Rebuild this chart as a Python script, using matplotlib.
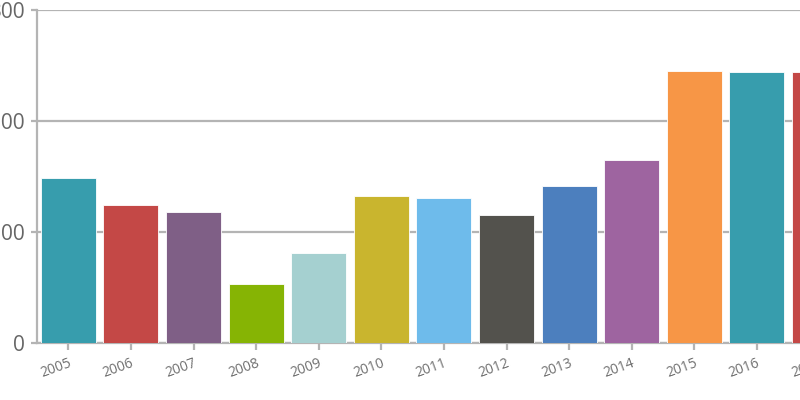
import numpy as np
import matplotlib.pyplot as plt

plt.rcParams['font.family'] = ['Open Sans', 'DejaVu Sans']

# data
years = ['2005', '2006', '2007', '2008', '2009', '2010', '2011',
         '2012', '2013', '2014', '2015', '2016', '2017']
values = [149, 124, 118, 53, 81, 132, 131, 115, 141, 165, 245, 244, 244]
colors = ['#379dad', '#c44846', '#7f5f86', '#86b404', '#a5d0d0', '#c9b52e',
          '#6ebbeb', '#53524d', '#4c7fbe', '#9e64a0', '#f79646', '#379dad',
          '#c44846']
yticks = [0, 100, 200, 300]

fig = plt.figure(figsize=(8, 4), dpi=100)
# axes run past the right edge of the figure, like the cropped original
ax = fig.add_axes([37 / 800, 57 / 400, 13 * 62.6 / 800, 333 / 400])

x = np.arange(len(years))
ax.bar(x, values, width=0.88, color=colors, edgecolor='white',
       linewidth=0.6, zorder=3)

ax.set_xlim(-0.5, len(years) - 0.5)
ax.set_ylim(0, 300)
ax.set_yticks(yticks)
ax.set_yticklabels([str(v) for v in yticks])
ax.set_xticks(x)
ax.set_xticklabels(years, rotation=20, ha='right', rotation_mode='anchor')

ax.grid(axis='y', color='#b4b4b4', linewidth=1.6, zorder=0)
for s in ['top', 'right']:
    ax.spines[s].set_visible(False)
for s in ['left', 'bottom']:
    ax.spines[s].set_color('#b4b4b4')
    ax.spines[s].set_linewidth(1.6)

ax.tick_params(axis='y', length=4, width=1.6, color='#b4b4b4',
               labelsize=15, labelcolor='#666666', pad=5)
ax.tick_params(axis='x', length=5, width=1.6, color='#b4b4b4',
               labelsize=10, labelcolor='#707070', pad=4)

fig.savefig('out.png', dpi=100)
